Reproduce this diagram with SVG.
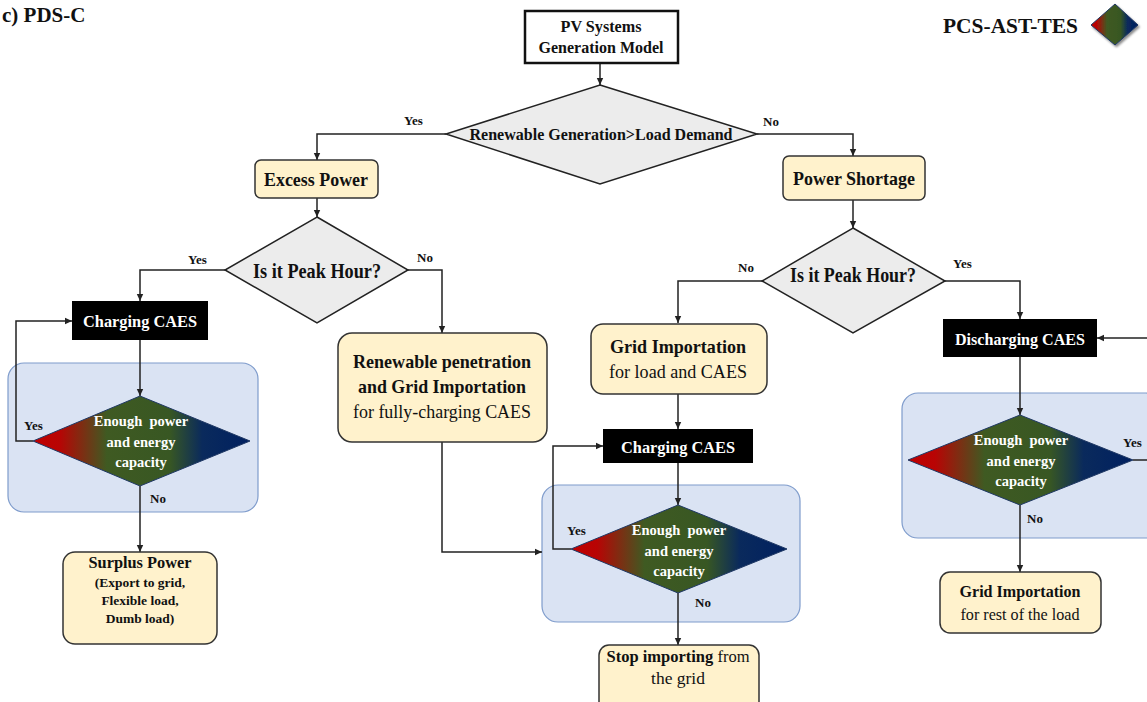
<svg xmlns="http://www.w3.org/2000/svg" width="1147" height="702" viewBox="0 0 1147 702">
  <style>
    text { font-family: "Liberation Serif", "Times New Roman", serif; fill: #111; }
    .b { font-weight: bold; }
    .ctr { text-anchor: middle; }
    .lbl { font-size: 13px; font-weight: bold; }
    .box { fill: #fff2cc; stroke: #333; stroke-width: 1.5; }
    .dec { fill: #ececec; stroke: #222; stroke-width: 1.5; }
    .blk { fill: #000; }
    .blktxt { fill: #fff; font-size: 17.5px; font-weight: bold; text-anchor: middle; }
    .zone { fill: #dae3f3; stroke: #7f9ccc; stroke-width: 1.2; }
    .grad { fill: url(#capGrad); stroke: #1f3864; stroke-width: 1; }
    .gtxt { fill: #fff; font-size: 14.5px; font-weight: bold; text-anchor: middle; white-space: pre; }
    .con { fill: none; stroke: #222; stroke-width: 1.5; }
    .arr { marker-end: url(#ah); }
  </style>
  <defs>
    <marker id="ah" markerUnits="userSpaceOnUse" markerWidth="8" markerHeight="8" refX="7" refY="4" orient="auto">
      <path d="M0,0.8 L7,4 L0,7.2 Z" fill="#222"/>
    </marker>
    <linearGradient id="capGrad" x1="0" y1="0" x2="1" y2="0">
      <stop offset="0" stop-color="#c00000"/>
      <stop offset="0.12" stop-color="#b80404"/>
      <stop offset="0.34" stop-color="#3f5a22"/>
      <stop offset="0.63" stop-color="#385723"/>
      <stop offset="0.78" stop-color="#0a2a5c"/>
      <stop offset="1" stop-color="#002060"/>
    </linearGradient>
    <filter id="shadow" x="-30%" y="-30%" width="160%" height="160%">
      <feDropShadow dx="1.5" dy="2" stdDeviation="1.2" flood-color="#000" flood-opacity="0.45"/>
    </filter>
  </defs>

  <!-- heading and legend -->
  <text x="2" y="22" class="b" font-size="21">c) PDS-C</text>
  <g id="legend">
    <text x="943" y="33" class="b" font-size="22" textLength="135" lengthAdjust="spacingAndGlyphs">PCS-AST-TES</text>
    <polygon points="1115,4 1138,25 1115,45 1091,25" class="grad" filter="url(#shadow)"/>
  </g>

  <!-- shaded capacity-check zones -->
  <g id="zones">
    <rect id="zone-left" x="8" y="363" width="250" height="149" rx="16" class="zone"/>
    <rect id="zone-mid" x="542" y="485" width="258" height="137" rx="16" class="zone"/>
    <rect id="zone-right" x="902" y="393" width="260" height="145" rx="16" class="zone"/>
  </g>

  <!-- connectors -->
  <g id="connectors">
    <path class="con arr" d="M600,63 V85"/>
    <path class="con arr" d="M446,134 H317 V160"/>
    <path class="con arr" d="M757,134 H853 V156"/>
    <path class="con arr" d="M317,198 V217"/>
    <path class="con arr" d="M225,270 H140 V301"/>
    <path class="con arr" d="M408,270 H442 V333"/>
    <path class="con arr" d="M140,340 V396"/>
    <path class="con arr" d="M33,441 H16 V321 H72"/>
    <path class="con arr" d="M140,486 V552"/>
    <path class="con arr" d="M442,442 V552 H542"/>
    <path class="con arr" d="M853,200 V228"/>
    <path class="con arr" d="M762,281 H678 V323"/>
    <path class="con arr" d="M945,281 H1020 V319"/>
    <path class="con arr" d="M678,394 V429"/>
    <path class="con arr" d="M678,463 V505"/>
    <path class="con arr" d="M571,549 H553 V446 H603"/>
    <path class="con arr" d="M678,593 V645"/>
    <path class="con arr" d="M1020,357 V415"/>
    <path class="con" d="M1133,460 H1147"/>
    <path class="con arr" d="M1147,338 H1097"/>
    <path class="con arr" d="M1020,505 V572"/>

    <text x="404" y="125" class="lbl">Yes</text>
    <text x="763" y="126" class="lbl">No</text>
    <text x="188" y="264" class="lbl">Yes</text>
    <text x="417" y="262" class="lbl">No</text>
    <text x="738" y="272" class="lbl">No</text>
    <text x="953" y="268" class="lbl">Yes</text>
    <text x="24" y="430" class="lbl">Yes</text>
    <text x="150" y="503" class="lbl">No</text>
    <text x="567" y="535" class="lbl">Yes</text>
    <text x="695" y="607" class="lbl">No</text>
    <text x="1123" y="447" class="lbl">Yes</text>
    <text x="1027" y="523" class="lbl">No</text>
  </g>

  <!-- nodes -->
  <g id="pv-model">
    <rect x="525" y="11" width="153" height="52" fill="#fff" stroke="#111" stroke-width="2.5"/>
    <text x="601" y="32" class="b ctr" font-size="16.5" textLength="81" lengthAdjust="spacingAndGlyphs">PV Systems</text>
    <text x="601" y="53" class="b ctr" font-size="16.5" textLength="125" lengthAdjust="spacingAndGlyphs">Generation Model</text>
  </g>

  <g id="gen-vs-load">
    <polygon points="600,85 757,134 600,184 446,134" class="dec"/>
    <text x="601" y="140" class="b ctr" font-size="17.5" textLength="263" lengthAdjust="spacingAndGlyphs">Renewable Generation&gt;Load Demand</text>
  </g>

  <g id="excess-power">
    <rect x="255" y="160" width="123" height="38" rx="6" class="box"/>
    <text x="316" y="186" class="b ctr" font-size="19.5" textLength="104" lengthAdjust="spacingAndGlyphs">Excess Power</text>
  </g>

  <g id="power-shortage">
    <rect x="783" y="156" width="142" height="44" rx="6" class="box"/>
    <text x="854" y="185" class="b ctr" font-size="19.5" textLength="122" lengthAdjust="spacingAndGlyphs">Power Shortage</text>
  </g>

  <g id="peak-left">
    <polygon points="317,217 408,270 317,323 225,270" class="dec"/>
    <text x="317" y="278" class="b ctr" font-size="20" textLength="128" lengthAdjust="spacingAndGlyphs">Is it Peak Hour?</text>
  </g>

  <g id="peak-right">
    <polygon points="853,228 945,281 853,333 762,281" class="dec"/>
    <text x="853" y="282" class="b ctr" font-size="20" textLength="126" lengthAdjust="spacingAndGlyphs">Is it Peak Hour?</text>
  </g>

  <g id="charging-left">
    <rect x="72" y="301" width="136" height="39" class="blk"/>
    <text x="140" y="327" class="blktxt" textLength="114" lengthAdjust="spacingAndGlyphs">Charging CAES</text>
  </g>

  <g id="capacity-left">
    <polygon points="140,396 250,441 140,486 33,441" class="grad"/>
    <text x="141" y="426" class="gtxt">Enough  power</text>
    <text x="141" y="447" class="gtxt">and energy</text>
    <text x="141" y="467" class="gtxt">capacity</text>
  </g>

  <g id="surplus-power">
    <rect x="63" y="552" width="154" height="92" rx="12" class="box"/>
    <text x="140" y="568" class="b ctr" font-size="17.5" textLength="103" lengthAdjust="spacingAndGlyphs">Surplus Power</text>
    <text x="140" y="587" class="b ctr" font-size="13.5">(Export to grid,</text>
    <text x="140" y="605" class="b ctr" font-size="13.5">Flexible load,</text>
    <text x="140" y="623" class="b ctr" font-size="13.5">Dumb load)</text>
  </g>

  <g id="renewable-penetration">
    <rect x="338" y="333" width="209" height="109" rx="14" class="box"/>
    <text x="442" y="368" class="b ctr" font-size="19.5" textLength="178" lengthAdjust="spacingAndGlyphs">Renewable penetration</text>
    <text x="442" y="393" class="b ctr" font-size="19.5" textLength="168" lengthAdjust="spacingAndGlyphs">and Grid Importation</text>
    <text x="442" y="418" class="ctr" font-size="19.5" textLength="178" lengthAdjust="spacingAndGlyphs">for fully-charging CAES</text>
  </g>

  <g id="grid-import-mid">
    <rect x="591" y="324" width="176" height="70" rx="12" class="box"/>
    <text x="678" y="353" class="b ctr" font-size="19.5" textLength="136" lengthAdjust="spacingAndGlyphs">Grid Importation</text>
    <text x="678" y="378" class="ctr" font-size="19.5" textLength="138" lengthAdjust="spacingAndGlyphs">for load and CAES</text>
  </g>

  <g id="charging-mid">
    <rect x="603" y="429" width="150" height="34" class="blk"/>
    <text x="678" y="453" class="blktxt" textLength="114" lengthAdjust="spacingAndGlyphs">Charging CAES</text>
  </g>

  <g id="capacity-mid">
    <polygon points="678,505 787,549 678,593 571,549" class="grad"/>
    <text x="679" y="535" class="gtxt">Enough  power</text>
    <text x="679" y="556" class="gtxt">and energy</text>
    <text x="679" y="576" class="gtxt">capacity</text>
  </g>

  <g id="stop-importing">
    <rect x="599" y="645" width="160" height="70" rx="10" class="box"/>
    <text x="678" y="662" class="ctr" font-size="16.5"><tspan class="b">Stop importing</tspan> from</text>
    <text x="678" y="684" class="ctr" font-size="17.5">the grid</text>
  </g>

  <g id="discharging">
    <rect x="943" y="319" width="154" height="38" class="blk"/>
    <text x="1020" y="345" class="blktxt" textLength="130" lengthAdjust="spacingAndGlyphs">Discharging CAES</text>
  </g>

  <g id="capacity-right">
    <polygon points="1020,415 1133,460 1020,505 908,460" class="grad"/>
    <text x="1021" y="445" class="gtxt">Enough  power</text>
    <text x="1021" y="466" class="gtxt">and energy</text>
    <text x="1021" y="486" class="gtxt">capacity</text>
  </g>

  <g id="grid-import-right">
    <rect x="940" y="572" width="161" height="61" rx="10" class="box"/>
    <text x="1020" y="597" class="b ctr" font-size="17" textLength="121" lengthAdjust="spacingAndGlyphs">Grid Importation</text>
    <text x="1020" y="620" class="ctr" font-size="17.5" textLength="119" lengthAdjust="spacingAndGlyphs">for rest of the load</text>
  </g>
</svg>
